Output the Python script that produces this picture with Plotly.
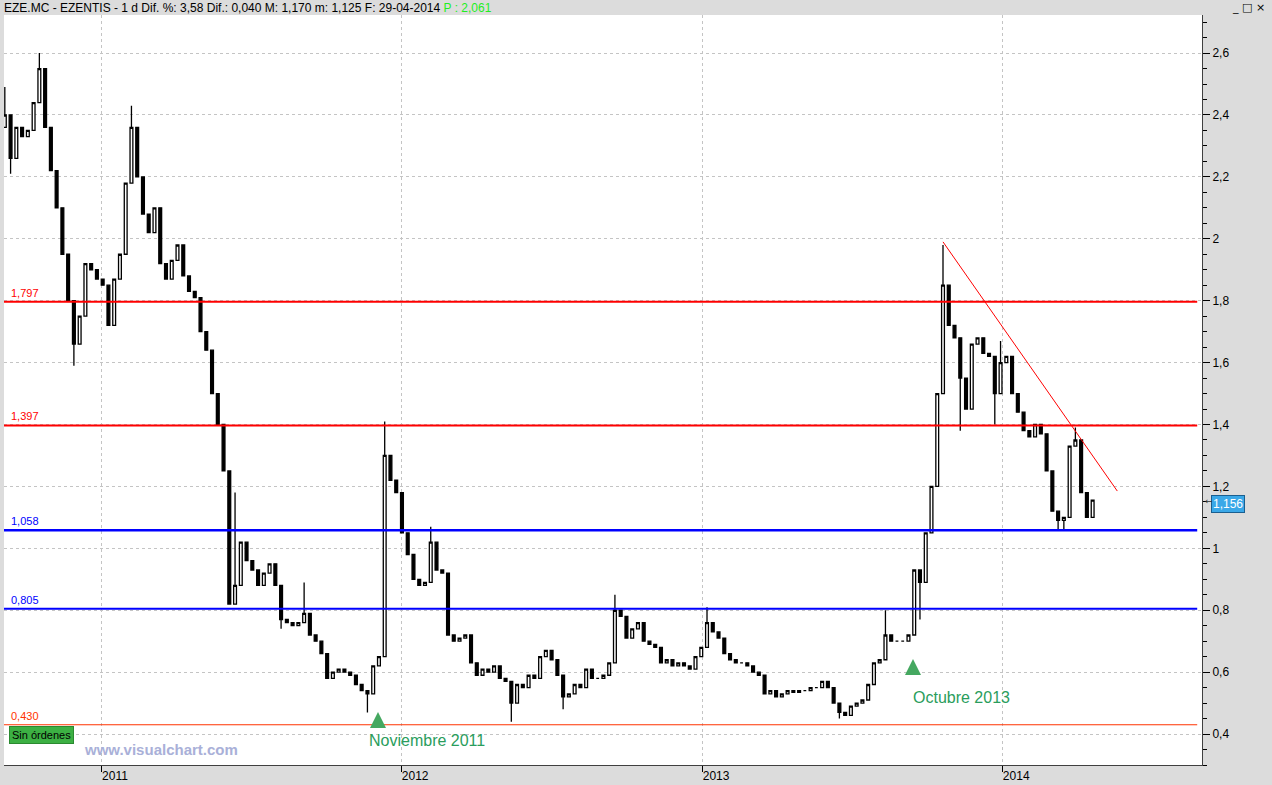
import plotly.graph_objects as go
import pandas as pd

# ---------------- data ----------------
week_start = "2010-09-06"
closes = [
    2.40, 2.26, 2.36, 2.33, 2.35, 2.44, 2.55, 2.36, 2.22, 2.10,
    1.95, 1.80, 1.66, 1.75, 1.92, 1.90, 1.87, 1.85, 1.72, 1.87,
    1.95, 2.18, 2.36, 2.20, 2.08, 2.02, 2.10, 1.92, 1.87, 1.93,
    1.98, 1.88, 1.83, 1.81, 1.70, 1.64, 1.50, 1.40, 1.25, 0.82,
    0.88, 1.02, 0.96, 0.93, 0.88, 0.92, 0.95, 0.88, 0.77, 0.76,
    0.75, 0.76, 0.79, 0.72, 0.70, 0.66, 0.58, 0.60, 0.61, 0.60,
    0.59, 0.56, 0.54, 0.53, 0.62, 0.65, 1.30, 1.22, 1.18, 1.05,
    0.98, 0.90, 0.88, 0.89, 1.02, 0.93, 0.92, 0.72, 0.70, 0.71,
    0.72, 0.63, 0.59, 0.61, 0.60, 0.62, 0.58, 0.57, 0.50, 0.56,
    0.55, 0.59, 0.58, 0.65, 0.67, 0.64, 0.59, 0.52, 0.53, 0.56,
    0.55, 0.61, 0.58, 0.58, 0.59, 0.63, 0.80, 0.78, 0.71, 0.74,
    0.76, 0.70, 0.69, 0.68, 0.63, 0.64, 0.62, 0.63, 0.62, 0.61,
    0.65, 0.68, 0.76, 0.73, 0.71, 0.66, 0.64, 0.63, 0.63, 0.62,
    0.60, 0.59, 0.53, 0.54, 0.52, 0.53, 0.54, 0.535, 0.54, 0.54,
    0.55, 0.55, 0.57, 0.55, 0.50, 0.47, 0.46, 0.49, 0.50, 0.51,
    0.56, 0.63, 0.64, 0.72, 0.70, 0.70, 0.70, 0.72, 0.93, 0.89,
    1.05, 1.20, 1.50, 1.85, 1.72, 1.68, 1.55, 1.45, 1.66, 1.68,
    1.63, 1.62, 1.50, 1.60, 1.62, 1.50, 1.44, 1.38, 1.36, 1.40,
    1.37, 1.25, 1.12, 1.09, 1.10, 1.33, 1.35, 1.18, 1.10, 1.156,
]
first_open = 2.36

# weekly extremes (wicks) that stand out in the reference
high_weeks = [0, 6, 22, 40, 52, 66, 74, 106, 122, 153, 163, 173, 186]
high_values = [2.49, 2.60, 2.43, 1.18, 0.89, 1.41, 1.07, 0.85, 0.81, 0.80, 1.98, 1.67, 1.39]
low_weeks = [1, 12, 48, 63, 88, 97, 145, 159, 166, 172, 183, 184]
low_values = [2.21, 1.59, 0.74, 0.47, 0.44, 0.48, 0.45, 0.77, 1.38, 1.40, 1.06, 1.06]

levels = [1.797, 1.397, 1.058, 0.805, 0.430]
level_labels = ["1,797", "1,397", "1,058", "0,805", "0,430"]

trend_dates = ["2013-10-21", "2014-05-21"]
trend_values = [1.99, 1.185]

last_price = 1.156
header = ("EZE.MC - EZENTIS - 1 d Dif. %: 3,58 Dif.: 0,040 M: 1,170 m: 1,125 "
          "F: 29-04-2014 ")
header_p = "P : 2,061"

y_ticks = [0.4, 0.6, 0.8, 1.0, 1.2, 1.4, 1.6, 1.8, 2.0, 2.2, 2.4, 2.6]

# ---------------- derived OHLC ----------------
dates = pd.date_range(week_start, periods=len(closes), freq="7D")
opens = [first_open] + closes[:-1]
highs = [max(o, c) for o, c in zip(opens, closes)]
lows = [min(o, c) for o, c in zip(opens, closes)]
for w, v in zip(high_weeks, high_values):
    highs[w] = max(highs[w], v)
for w, v in zip(low_weeks, low_values):
    lows[w] = min(lows[w], v)

# ---------------- styling / layout helpers ----------------
W, H = 1272, 785
ML, MR, MT, MB = 4, 70, 15, 20
PW, PH = W - ML - MR, H - MT - MB


def px(x):
    return (x - ML) / PW


def py(y):
    return (H - MB - y) / PH


level_colors = ["#ff0000", "#ff0000", "#0000ff", "#0000ff", "#ff3300"]
level_widths = [2, 2, 2.5, 2, 1]

fig = go.Figure()

fig.add_trace(go.Candlestick(
    x=dates, open=opens, high=highs, low=lows, close=closes,
    increasing=dict(line=dict(color="black", width=1.3), fillcolor="white"),
    decreasing=dict(line=dict(color="black", width=1.3), fillcolor="black"),
    whiskerwidth=0, showlegend=False, hoverinfo="skip",
))

fig.add_trace(go.Scatter(
    x=trend_dates, y=trend_values, mode="lines",
    line=dict(color="#ff0000", width=1), showlegend=False, hoverinfo="skip",
))

shapes = []
annotations = []
for lv, lab, col, lw in zip(levels, level_labels, level_colors, level_widths):
    shapes.append(dict(type="line", xref="paper", yref="y", x0=0, x1=0.996,
                       y0=lv, y1=lv, line=dict(color=col, width=lw)))
    annotations.append(dict(xref="paper", yref="y", x=0, y=lv, text=lab,
                            showarrow=False, xanchor="left", yanchor="bottom",
                            xshift=5, yshift=1,
                            font=dict(family="Liberation Sans", size=11, color=col)))

# header
annotations.append(dict(
    xref="paper", yref="paper", x=px(2), y=py(8),
    text=header + "<span style='color:#22ee22'>" + header_p + "</span>",
    showarrow=False, xanchor="left", yanchor="middle",
    font=dict(family="Liberation Sans", size=12, color="#000000")))
annotations.append(dict(
    xref="paper", yref="paper", x=px(1248), y=py(7), text="_ □ ×",
    showarrow=False, xanchor="center", yanchor="middle",
    font=dict(family="DejaVu Sans", size=11, color="#000000")))

# last price box
annotations.append(dict(
    xref="paper", yref="y", x=1, y=last_price, text="1,156", showarrow=False,
    xanchor="left", yanchor="middle", xshift=9, yshift=-4,
    bgcolor="#3aa8e8", bordercolor="#1a5f90", borderwidth=1, borderpad=1,
    font=dict(family="Liberation Sans", size=12, color="white")))
annotations.append(dict(
    xref="paper", yref="y", x=1, y=last_price, text="←", showarrow=False,
    xanchor="left", yanchor="middle", xshift=1, yshift=-1,
    font=dict(family="DejaVu Sans", size=9, color="#333333")))

# Sin ordenes
annotations.append(dict(
    xref="paper", yref="paper", x=px(9), y=py(735), text="Sin órdenes",
    showarrow=False, xanchor="left", yanchor="middle",
    bgcolor="#3cb043", bordercolor="#2a8a30", borderwidth=1, borderpad=2,
    font=dict(family="Liberation Sans", size=11, color="#000000")))

# watermark
annotations.append(dict(
    xref="paper", yref="paper", x=px(161), y=py(749), text="<b>www.visualchart.com</b>",
    showarrow=False, xanchor="center", yanchor="middle",
    font=dict(family="Liberation Sans", size=15, color="#a9b0d8")))

# green arrows and labels
for tip_x, tip_y, txt_x, txt_y, txt in [(378, 712, 427, 740, "Noviembre 2011"),
                                        (913, 659, 961, 697, "Octubre 2013")]:
    annotations.append(dict(
        xref="paper", yref="paper", x=px(tip_x), y=py(tip_y), ax=0, ay=16,
        text="", showarrow=True, arrowhead=2, arrowsize=0.8, arrowwidth=4,
        arrowcolor="#45a860"))
    annotations.append(dict(
        xref="paper", yref="paper", x=px(txt_x), y=py(txt_y), text=txt,
        showarrow=False, xanchor="center", yanchor="middle",
        font=dict(family="Liberation Sans", size=16, color="#2a9d5c")))

fig.update_layout(
    width=W, height=H,
    margin=dict(l=ML, r=MR, t=MT, b=MB, pad=0, autoexpand=False),
    paper_bgcolor="#dcdcdc",
    plot_bgcolor="#ffffff",
    separators=",.",
    showlegend=False,
    shapes=shapes,
    annotations=annotations,
    xaxis=dict(
        type="date", range=["2010-09-05", "2014-09-01"],
        rangeslider=dict(visible=False),
        tickformat="%Y", dtick="M12", tick0="2011-01-01",
        ticks="outside", ticklen=6, tickcolor="#000000",
        ticklabelshift=14, ticklabelstandoff=-6, automargin=False,
        tickfont=dict(family="Liberation Sans", size=12, color="#000000"),
        showgrid=True, gridcolor="#c4c4c4", griddash="dot", gridwidth=1,
        showline=True, linecolor="#404040", linewidth=1,
        zeroline=False, fixedrange=True,
    ),
    yaxis=dict(
        side="right", range=[0.30, 2.723],
        tickvals=y_ticks, automargin=False,
        ticks="outside", ticklen=7, tickcolor="#000000",
        tickfont=dict(family="Liberation Sans", size=12, color="#000000"),
        minor=dict(dtick=0.05, tick0=0.0, ticks="outside", ticklen=4,
                   tickcolor="#000000", showgrid=False),
        showgrid=True, gridcolor="#c4c4c4", griddash="dot", gridwidth=1,
        showline=True, linecolor="#404040", linewidth=1,
        zeroline=False, fixedrange=True,
    ),
)

fig.write_html(
    "out.html",
    config={"displayModeBar": False},
    post_script="document.body.style.margin='0px';"
                "document.body.style.overflow='hidden';"
                "document.documentElement.style.overflow='hidden';",
)
